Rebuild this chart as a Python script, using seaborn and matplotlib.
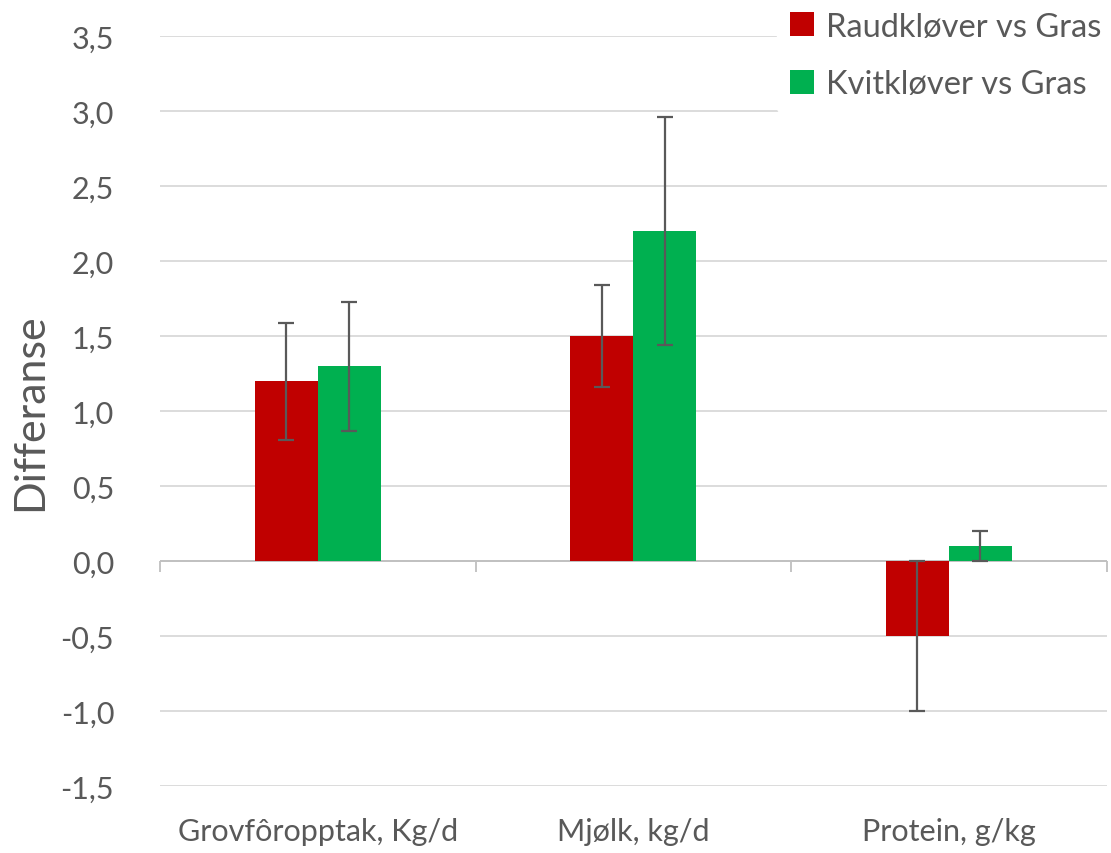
import matplotlib
matplotlib.use("Agg")
import matplotlib.pyplot as plt
import matplotlib.ticker as mticker
import numpy as np
import pandas as pd
import seaborn as sns

# Data
categories = ["Grovfôropptak, Kg/d", "Mjølk, kg/d", "Protein, g/kg"]
series_names = ["Raudkløver vs Gras", "Kvitkløver vs Gras"]
raud_values = [1.2, 1.5, -0.5]
raud_err = [0.39, 0.34, 0.5]
kvit_values = [1.3, 2.2, 0.1]
kvit_err = [0.43, 0.76, 0.1]
colors = ["#C00000", "#00B050"]
text_color = "#595959"

df = pd.DataFrame({
    "kategori": categories * 2,
    "serie": [series_names[0]] * 3 + [series_names[1]] * 3,
    "verdi": raud_values + kvit_values,
    "feil": raud_err + kvit_err,
})

sns.set_style("white")
plt.rcParams["font.family"] = ["Lato", "DejaVu Sans"]

fig = plt.figure(figsize=(11.11, 8.54), dpi=100)
ax = fig.add_axes([0.144, 0.0785, 0.852, 0.878])

sns.barplot(data=df, x="kategori", y="verdi", hue="serie", palette=colors,
            width=0.4, errorbar=None, saturation=1, linewidth=0, ax=ax, zorder=2)

# Error bars at bar centres
for container, name in zip(ax.containers, series_names):
    sub = df[df["serie"] == name]
    xs = [p.get_x() + p.get_width() / 2 for p in container.patches]
    ax.errorbar(xs, sub["verdi"].values, yerr=sub["feil"].values, fmt="none",
                ecolor="#595959", elinewidth=1.6, capsize=6, capthick=1.6, zorder=3)

ax.set_ylim(-1.5, 3.5)
ax.set_xlim(-0.5, 2.5)
ax.yaxis.set_major_locator(mticker.MultipleLocator(0.5))
ax.yaxis.set_major_formatter(mticker.FuncFormatter(lambda v, p: f"{v:.1f}".replace(".", ",")))
ax.grid(axis="y", color="#D9D9D9", linewidth=1.3, zorder=0)
ax.set_axisbelow(True)
for s in ax.spines.values():
    s.set_visible(False)

ax.tick_params(axis="y", length=0, labelsize=22, labelcolor=text_color, pad=33)
ax.tick_params(axis="x", length=0, labelsize=22, labelcolor=text_color, pad=22)
ax.set_xlabel("")
ax.set_ylabel("Differanse", fontsize=31, color=text_color)
ax.yaxis.set_label_coords(-0.117, 0.5)

# Category axis line at zero with boundary ticks
ax.axhline(0, color="#BFBFBF", linewidth=1.3, zorder=1)
sec = ax.secondary_xaxis(0.3)
sec.set_xticks([-0.5, 0.5, 1.5, 2.5])
sec.set_xticklabels([])
sec.tick_params(axis="x", length=8, width=1.3, color="#BFBFBF", direction="out")
for s in sec.spines.values():
    s.set_visible(False)

leg = ax.legend(loc="upper right", bbox_to_anchor=(1.008, 1.05), frameon=True,
                fontsize=23.5, handlelength=0.75, handleheight=0.75, handletextpad=0.35,
                labelspacing=0.85, borderaxespad=0)
leg.get_frame().set_edgecolor("white")
leg.get_frame().set_facecolor("white")
leg.get_frame().set_alpha(1)
for t in leg.get_texts():
    t.set_color(text_color)

fig.savefig("out.png", dpi=100)
